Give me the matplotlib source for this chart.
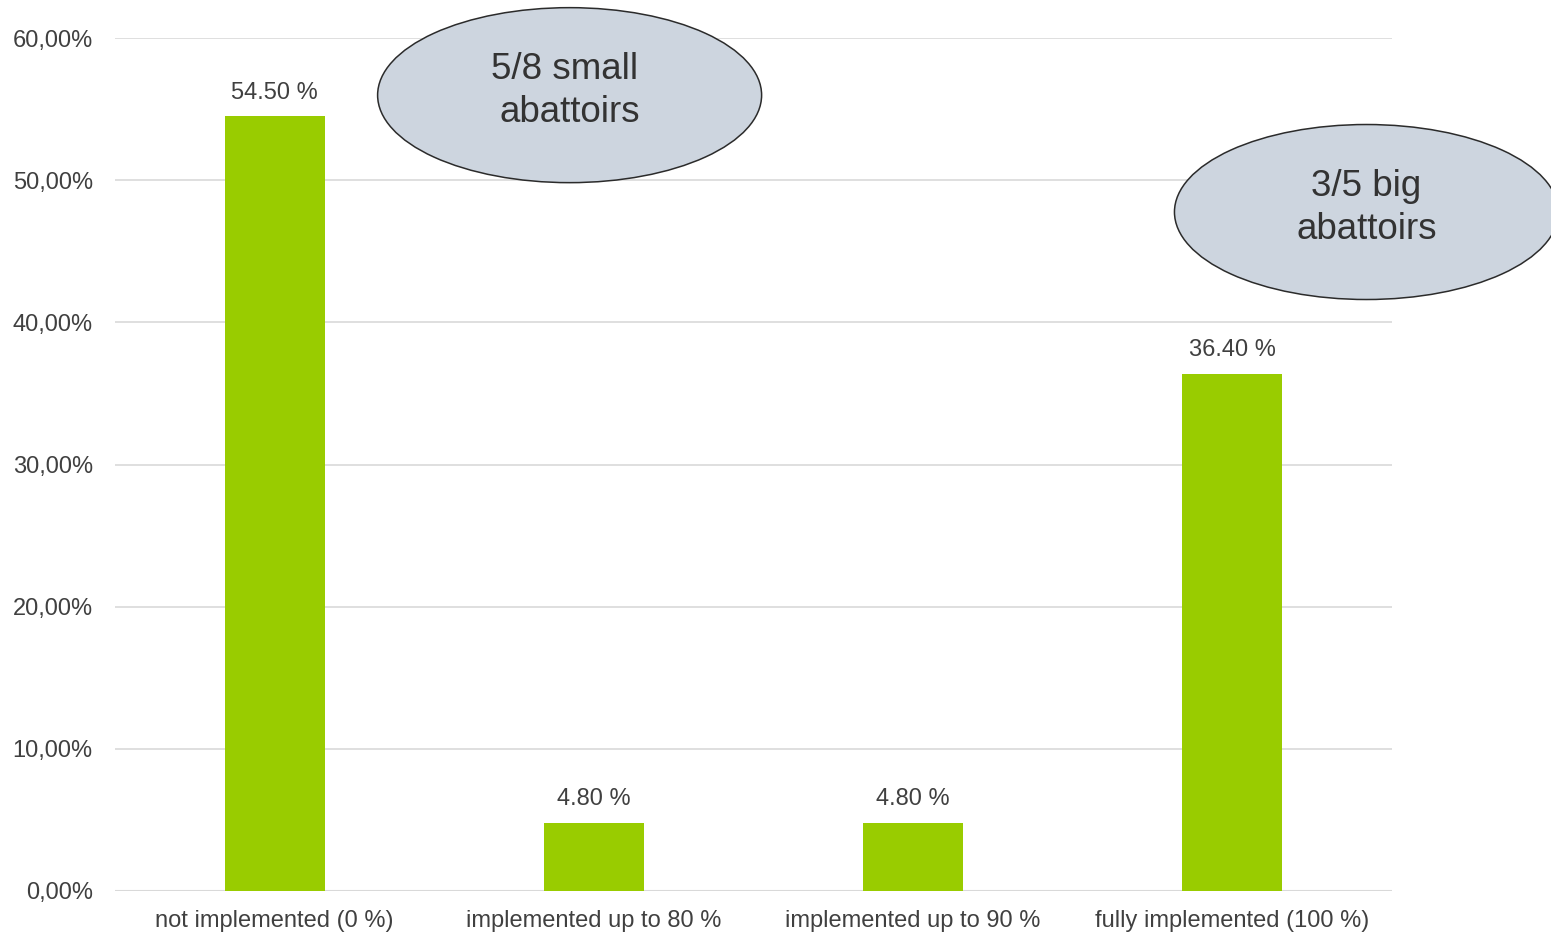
import matplotlib.pyplot as plt
from matplotlib.patches import Ellipse
from matplotlib.ticker import FuncFormatter

plt.rcParams["font.family"] = ["Liberation Sans", "DejaVu Sans"]

categories = ["not implemented (0 %)", "implemented up to 80 %",
              "implemented up to 90 %", "fully implemented (100 %)"]
shares = [54.5, 4.8, 4.8, 36.4]
notes = ["5/8 small \nabattoirs", "3/5 big\nabattoirs"]

text_color = "#404040"
bar_color = "#99cc00"

fig = plt.figure(figsize=(15.51, 9.32), dpi=100)
ax = fig.add_axes([115 / 1551, 1 - 891 / 932, (1392 - 115) / 1551, (891 - 38) / 932])

x = range(len(categories))
bars = ax.bar(x, shares, width=0.313, color=bar_color, zorder=2)
ax.bar_label(bars, labels=["%.2f %%" % v for v in shares], padding=9,
             fontsize=17, color=text_color)

ax.set_xlim(-0.5, len(categories) - 0.5)
ax.set_ylim(0, 60)
ax.set_yticks(range(0, 61, 10))
ax.yaxis.set_major_formatter(FuncFormatter(lambda v, p: ("%.2f%%" % v).replace(".", ",")))
ax.set_xticks(list(x))
ax.set_xticklabels(categories)
ax.tick_params(axis="both", length=0, labelsize=17, labelcolor=text_color)
ax.tick_params(axis="x", pad=14)
ax.tick_params(axis="y", pad=16)
ax.grid(axis="y", color="#d9d9d9", linewidth=1.2, zorder=0)
ax.set_axisbelow(True)
for side in ["top", "right", "left", "bottom"]:
    ax.spines[side].set_visible(False)
ax.axhline(0, color="#d9d9d9", linewidth=1.5, zorder=1)

# callout ellipses (axes fraction coordinates)
spots = [(0.356, 0.933), (0.980, 0.796)]
for (cx, cy), note in zip(spots, notes):
    e = Ellipse((cx, cy), 384 / 1277, 175 / 853, transform=ax.transAxes,
                facecolor="#cdd5df", edgecolor="#2b2b2b", linewidth=1.1,
                clip_on=False, zorder=5)
    ax.add_patch(e)
    ax.text(cx, cy + 0.005, note, transform=ax.transAxes, ha="center", va="center",
            fontsize=26.5, color="#333333", linespacing=1.3, zorder=6)

fig.savefig("out.png", dpi=100)
